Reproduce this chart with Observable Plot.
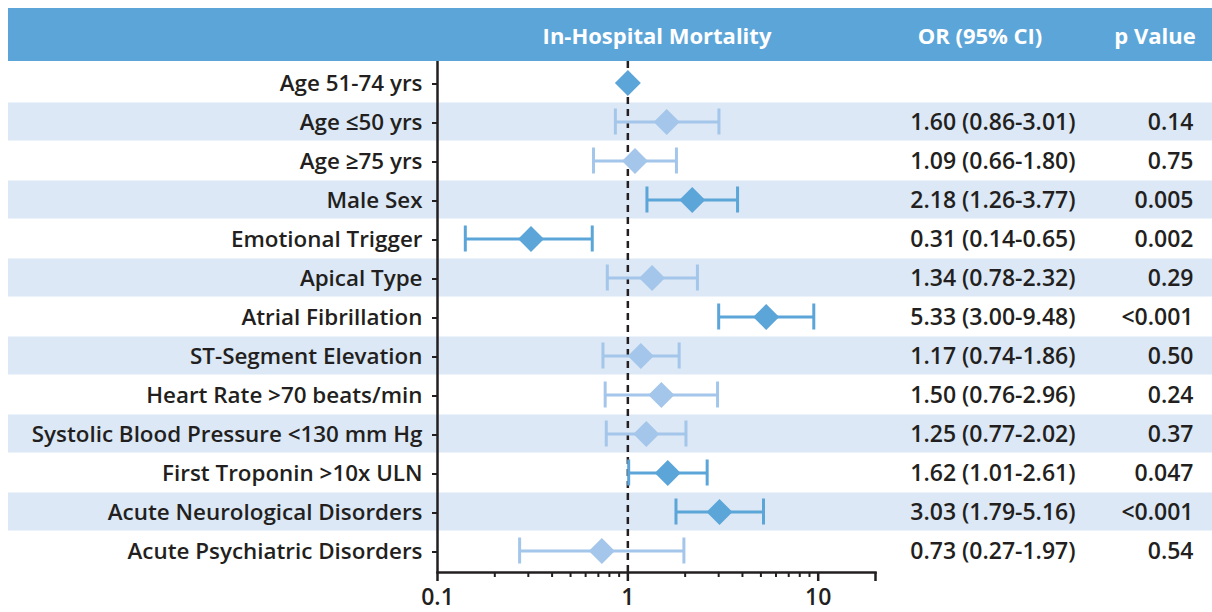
<!DOCTYPE html>
<html><head><meta charset="utf-8">
<script src="https://cdn.jsdelivr.net/npm/d3@7"></script>
<script src="https://cdn.jsdelivr.net/npm/@observablehq/plot@0.6"></script>
<style>
body{margin:0;background:#fff;font-family:"Open Sans", sans-serif;}
#wrap{position:relative;width:1212px;height:612px;overflow:hidden;}
#header{position:absolute;left:8px;top:8px;width:1204px;height:53px;background:#5BA5D9;color:#fff;font-weight:700;font-size:22px;}
#header span{position:absolute;top:50%;transform:translate(-50%,-50%);white-space:nowrap;}
#chart{position:absolute;left:0;top:61px;}
svg text{font-weight:600;}
</style></head><body>
<div id="wrap">
  <div id="header">
    <span style="left:649px">In-Hospital Mortality</span>
    <span style="left:972px">OR (95% CI)</span>
    <span style="left:1147px">p Value</span>
  </div>
  <div id="chart"></div>
</div>
<script>
const labels = ["Age 51-74 yrs","Age ≤50 yrs","Age ≥75 yrs","Male Sex","Emotional Trigger","Apical Type","Atrial Fibrillation","ST-Segment Elevation","Heart Rate >70 beats/min","Systolic Blood Pressure <130 mm Hg","First Troponin >10x ULN","Acute Neurological Disorders","Acute Psychiatric Disorders"];
const oddsRatio = [1, 1.60, 1.09, 2.18, 0.31, 1.34, 5.33, 1.17, 1.50, 1.25, 1.62, 3.03, 0.73];
const ciLow = [null, 0.86, 0.66, 1.26, 0.14, 0.78, 3.00, 0.74, 0.76, 0.77, 1.01, 1.79, 0.27];
const ciHigh = [null, 3.01, 1.80, 3.77, 0.65, 2.32, 9.48, 1.86, 2.96, 2.02, 2.61, 5.16, 1.97];
const orText = ["", "1.60 (0.86-3.01)", "1.09 (0.66-1.80)", "2.18 (1.26-3.77)", "0.31 (0.14-0.65)", "1.34 (0.78-2.32)", "5.33 (3.00-9.48)", "1.17 (0.74-1.86)", "1.50 (0.76-2.96)", "1.25 (0.77-2.02)", "1.62 (1.01-2.61)", "3.03 (1.79-5.16)", "0.73 (0.27-1.97)"];
const pText = ["", "0.14", "0.75", "0.005", "0.002", "0.29", "<0.001", "0.50", "0.24", "0.37", "0.047", "<0.001", "0.54"];
const significant = [true, false, false, true, true, false, true, false, false, false, true, true, false];
const majorTicks = [0.1, 1, 10, 20];
const majorTickLabels = ["0.1", "1", "10", ""];
const minorTicks = [0.2,0.3,0.4,0.5,0.6,0.7,0.8,0.9,2,3,4,5,6,7,8,9];

const rows = labels.map((label, i) => ({label, or: oddsRatio[i], lo: ciLow[i], hi: ciHigh[i], orText: orText[i], p: pText[i], sig: significant[i], i}));
const DARK = "#5BA5D9", LIGHT = "#A3C6EA", INK = "#231F20";
const withCI = rows.filter(d => d.lo != null);
const darkCI = withCI.filter(d => d.sig), lightCI = withCI.filter(d => !d.sig);
const FS = 22.4, NFS = 23;

const chart = Plot.plot({
  width: 1212, height: 551,
  marginTop: 0, marginBottom: 40, marginLeft: 437, marginRight: 337,
  style: {fontFamily: "'Open Sans', sans-serif", fontSize: FS + "px", color: INK, background: "transparent"},
  x: {type: "log", domain: [0.1, 20]},
  y: {domain: labels, padding: 0},
  marks: [
    Plot.cell(rows.filter(d => d.i % 2 === 1), {y: "label", fill: "#DCE8F5", insetLeft: -429, insetRight: -337, insetTop: 0.5, insetBottom: 0.5}),
    Plot.ruleX([1], {stroke: INK, strokeWidth: 2.5, strokeDasharray: "7,5"}),
    Plot.ruleY(lightCI, {y: "label", x1: "lo", x2: "hi", stroke: LIGHT, strokeWidth: 3}),
    Plot.tickX(lightCI, {x: "lo", y: "label", stroke: LIGHT, strokeWidth: 3, insetTop: 6.5, insetBottom: 6.5}),
    Plot.tickX(lightCI, {x: "hi", y: "label", stroke: LIGHT, strokeWidth: 3, insetTop: 6.5, insetBottom: 6.5}),
    Plot.ruleY(darkCI, {y: "label", x1: "lo", x2: "hi", stroke: DARK, strokeWidth: 3}),
    Plot.tickX(darkCI, {x: "lo", y: "label", stroke: DARK, strokeWidth: 3, insetTop: 6.5, insetBottom: 6.5}),
    Plot.tickX(darkCI, {x: "hi", y: "label", stroke: DARK, strokeWidth: 3, insetTop: 6.5, insetBottom: 6.5}),
    Plot.dot(rows.filter(d => !d.sig), {x: "or", y: "label", symbol: "diamond2", r: 11.7, fill: LIGHT, stroke: "none"}),
    Plot.dot(rows.filter(d => d.sig), {x: "or", y: "label", symbol: "diamond2", r: 11.7, fill: DARK, stroke: "none"}),
    Plot.text(rows, {y: "label", text: "orText", frameAnchor: "right", dx: 200, dy: 1, textAnchor: "end", fontSize: NFS, fill: INK, letterSpacing: 0.7}),
    Plot.text(rows, {y: "label", text: "p", frameAnchor: "right", dx: 318, dy: 1, textAnchor: "end", fontSize: NFS, fill: INK, letterSpacing: 0.7}),
    Plot.ruleX([0.1], {stroke: INK, strokeWidth: 2.5}),
    Plot.frame({anchor: "bottom", stroke: INK, strokeWidth: 2.5}),
    Plot.axisY({tickSize: 5, tickPadding: 10, fontSize: FS, dy: 1, label: null, stroke: INK, strokeWidth: 2}),
    Plot.axisX({ticks: majorTicks, tickFormat: (d) => majorTickLabels[majorTicks.indexOf(d)], tickSize: 9, tickPadding: 7, fontSize: 23, label: null, stroke: INK, strokeWidth: 2.5}),
    Plot.axisX({ticks: minorTicks, tickFormat: () => "", tickSize: 5, label: null, stroke: INK, strokeWidth: 2})
  ]
});
document.getElementById("chart").appendChild(chart);
</script>
</body></html>
